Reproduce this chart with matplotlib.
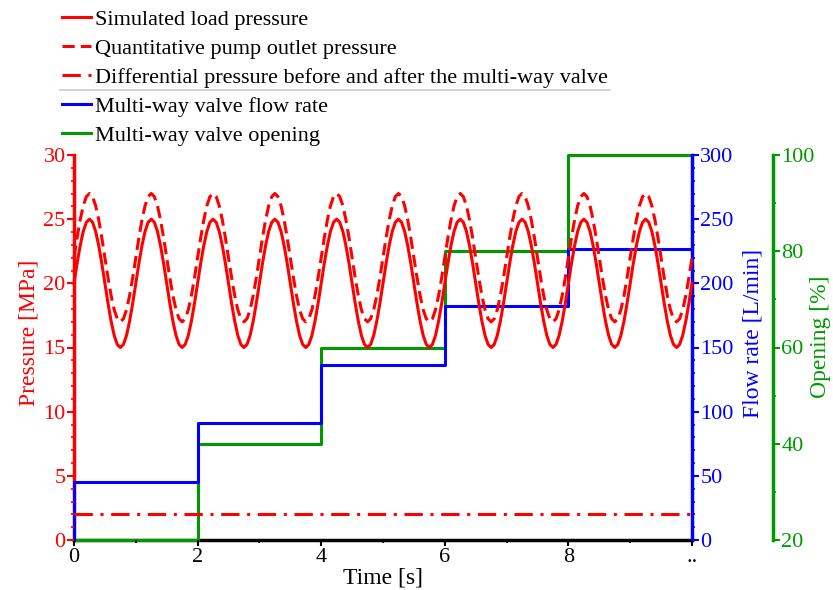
import numpy as np
import matplotlib
matplotlib.use("Agg")
import matplotlib.pyplot as plt
from matplotlib.lines import Line2D
from matplotlib.ticker import MultipleLocator

# ---- data ----
# one period (1 s) of simulated load pressure, sampled every 0.05 s [MPa]
load_cycle = [20.0, 21.55, 22.94, 24.05, 24.76, 25.0, 24.76, 24.05, 22.94, 21.55,
              20.0, 18.45, 17.06, 15.95, 15.24, 15.0, 15.24, 15.95, 17.06, 18.45]
n_cycles = 10
sample_dt = 0.05
diff_pressure = 2.0          # differential pressure across the multi-way valve [MPa]

step_times = [0, 2, 4, 6, 8, 10]
flow_levels = [45, 91, 136, 182, 227]      # L/min
opening_levels = [20, 40, 60, 80, 100]     # %

x_ticks = [0, 2, 4, 6, 8, 10]
x_tick_labels = ["0", "2", "4", "6", "8", ".."]

# ---- build series ----
load = np.array(load_cycle * n_cycles + [load_cycle[0]])
t = np.arange(len(load)) * sample_dt
pump = load + diff_pressure
diff = np.full_like(t, diff_pressure)

st = np.array(step_times, dtype=float)
flow_t = np.concatenate([[0], np.repeat(st[1:-1], 2), [st[-1]]])
flow_y = np.repeat(flow_levels, 2)
flow_t = np.concatenate([[0], flow_t])
flow_y = np.concatenate([[0], flow_y])
open_t = np.concatenate([[0], np.repeat(st[1:-1], 2), [st[-1]]])
open_y = np.repeat(opening_levels, 2)

plt.rcParams['font.family'] = ['Liberation Serif', 'DejaVu Serif']
FS = 16
FL = 17
RED = '#ff0000'
BLUE = '#0000ff'
GREEN = '#009a00'
LW = 2.2

fig = plt.figure(figsize=(8.33, 5.90), dpi=100)
W, H = 833, 590
X0, X1, YB, YT = 74, 692, 540, 155
ax = fig.add_axes([X0 / W, 1 - YB / H, (X1 - X0) / W, (YB - YT) / H])
ax2 = ax.twinx()
ax3 = ax.twinx()
ax3.spines['right'].set_position(('axes', (773 - X0) / (X1 - X0)))

for a in (ax, ax2, ax3):
    a.patch.set_visible(False)
    for s in a.spines.values():
        s.set_visible(False)

ax3.set_zorder(1)
ax2.set_zorder(2)
ax.set_zorder(3)

l3, = ax3.plot(open_t, open_y, color=GREEN, lw=LW, clip_on=False, zorder=4)
l2, = ax2.plot(flow_t, flow_y, color=BLUE, lw=LW, clip_on=False)
l1, = ax.plot(t, load, color=RED, lw=LW, clip_on=False)
l1b, = ax.plot(t, pump, color=RED, lw=LW, ls=(0, (4, 2)), clip_on=False)
l1c, = ax.plot(t, diff, color=RED, lw=LW, ls=(0, (6, 2.5, 1, 2.5)), clip_on=False)

ax.set_xlim(0, 10)
ax.set_ylim(0, 30)
ax2.set_ylim(0, 300)
ax3.set_ylim(20, 100)

# left and bottom spines drawn on the lowest axes so the data lines sit on top
ax3.spines['left'].set_visible(True)
ax3.spines['left'].set_color(RED)
ax3.spines['left'].set_linewidth(2.5)
ax3.spines['bottom'].set_visible(True)
ax3.spines['bottom'].set_color('black')
ax3.spines['bottom'].set_linewidth(2.5)
ax2.spines['right'].set_visible(True)
ax2.spines['right'].set_color(BLUE)
ax2.spines['right'].set_linewidth(2.5)
ax3.spines['right'].set_visible(True)
ax3.spines['right'].set_color(GREEN)
ax3.spines['right'].set_linewidth(2.5)

ax.set_xticks(x_ticks)
ax.set_xticklabels(x_tick_labels)
ax.xaxis.set_minor_locator(MultipleLocator(1))
ax.yaxis.set_major_locator(MultipleLocator(5))
ax.yaxis.set_minor_locator(MultipleLocator(1))
ax2.yaxis.set_major_locator(MultipleLocator(50))
ax2.yaxis.set_minor_locator(MultipleLocator(10))
ax3.yaxis.set_major_locator(MultipleLocator(20))
ax3.yaxis.set_minor_locator(MultipleLocator(10))

ax.tick_params(axis='x', which='major', labelsize=FS, length=4, width=1.5, color='black', pad=2)
ax.tick_params(axis='x', which='minor', length=2, width=1.2, color='black')
ax.tick_params(axis='y', which='major', labelsize=FS, length=5, width=1.5, colors=RED, pad=1)
ax.tick_params(axis='y', which='minor', length=2, width=1.2, colors=RED)
ax2.tick_params(axis='y', which='major', labelsize=FS, length=5, width=1.5, colors=BLUE, pad=1)
ax2.tick_params(axis='y', which='minor', length=2, width=1.2, colors=BLUE)
ax3.tick_params(axis='y', which='major', labelsize=FS, length=5, width=1.5, colors=GREEN, pad=1)
ax3.tick_params(axis='y', which='minor', length=2, width=1.2, colors=GREEN)

def ax_x(px):
    return (px - X0) / (X1 - X0)

def ax_y(py):
    return (YB - py) / (YB - YT)

ax.set_xlabel('Time [s]', fontsize=FL, labelpad=0)
ax.set_ylabel('Pressure [MPa]', fontsize=FL, color=RED)
ax.yaxis.set_label_coords(ax_x(39), ax_y(333))
ax2.set_ylabel('Flow rate [L/min]', fontsize=FL, color=BLUE)
ax2.yaxis.set_label_coords(ax_x(742), ax_y(333))
ax3.set_ylabel('Opening [%]', fontsize=FL, color=GREEN)
ax3.yaxis.set_label_coords(ax_x(810), ax_y(337))

handles = [l1, l1b, l1c, l2, l3]
labels = ['Simulated load pressure', 'Quantitative pump outlet pressure',
          'Differential pressure before and after the multi-way valve',
          'Multi-way valve flow rate', 'Multi-way valve opening']
fig.legend(handles, labels, loc='upper left', bbox_to_anchor=(62 / W, 1 - 9 / H),
           frameon=False, fontsize=FS, handlelength=1.3, handletextpad=0.2,
           labelspacing=0.38, borderaxespad=0, borderpad=0)
fig.add_artist(Line2D([60 / W, 610 / W], [1 - 90 / H, 1 - 90 / H],
                      color='#cccccc', lw=1.2, transform=fig.transFigure))

fig.savefig('out.png', dpi=100)
